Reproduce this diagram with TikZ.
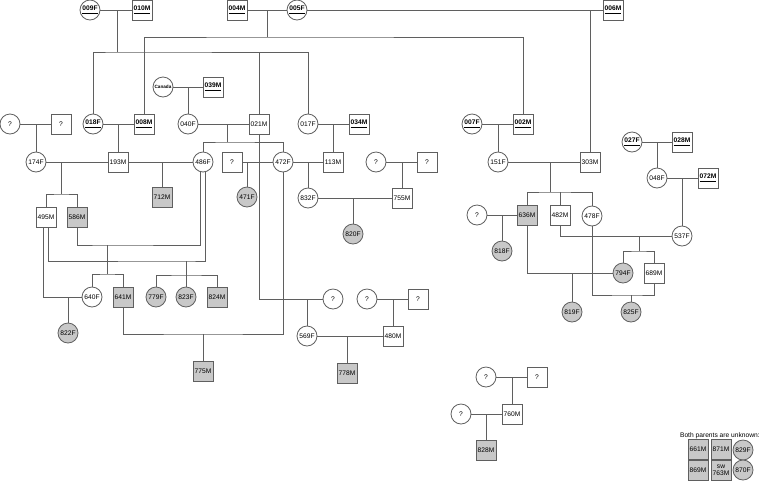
\documentclass[tikz,border=0pt]{standalone}
\usepackage{fontspec}
\setmainfont{Liberation Sans}
\definecolor{linegray}{RGB}{95,95,95}
\definecolor{affgray}{RGB}{200,200,200}
\newcommand{\founderid}[1]{\underline{\textbf{#1}}}
\usetikzlibrary{calc}

\begin{document}
\begin{tikzpicture}[x=0.75pt, y=-0.75pt,
    every node/.style={font=\fontsize{5}{5.5}\selectfont, inner sep=0pt},
    fem/.style={circle, draw=linegray, line width=0.6pt, fill=white, minimum size=15pt},
    mal/.style={rectangle, draw=linegray, line width=0.6pt, fill=white, minimum size=15pt},
    aff/.style={fill=affgray},
    link/.style={draw=linegray, line width=0.6pt}]
    \useasboundingbox (0,0) rectangle (760,483);

    % founders
    \node[fem] (n009F) at (90,10) {\founderid{009F}};
    \node[mal] (n010M) at (142,10) {\founderid{010M}};
    \node[mal] (n004M) at (237,10) {\founderid{004M}};
    \node[fem] (n005F) at (297,10) {\founderid{005F}};
    \node[mal] (n006M) at (613,10) {\founderid{006M}};
    \node[fem, font=\fontsize{3.5}{4}\selectfont\bfseries] (canada) at (163,87) {Canada};
    \node[mal] (n039M) at (213,87) {\founderid{039M}};

    \node[fem] (u1F) at (10,124) {?};
    \node[mal] (u1M) at (61,124) {?};
    \node[fem] (n018F) at (93,124) {\founderid{018F}};
    \node[mal] (n008M) at (144,124) {\founderid{008M}};
    \node[fem] (n040F) at (188,124) {040F};
    \node[mal] (n021M) at (259,124) {021M};
    \node[fem] (n017F) at (308,124) {017F};
    \node[mal] (n034M) at (359,124) {\founderid{034M}};
    \node[fem] (n007F) at (472,124) {\founderid{007F}};
    \node[mal] (n002M) at (523,124) {\founderid{002M}};
    \node[fem] (n027F) at (632,142) {\founderid{027F}};
    \node[mal] (n028M) at (682,142) {\founderid{028M}};

    \node[fem] (n174F) at (36,162) {174F};
    \node[mal] (n193M) at (118,162) {193M};
    \node[fem] (n486F) at (203,162) {486F};
    \node[mal] (u2M) at (232,162) {?};
    \node[fem] (n472F) at (283,162) {472F};
    \node[mal] (n113M) at (333,162) {113M};
    \node[fem] (u3F) at (376,162) {?};
    \node[mal] (u3M) at (427,162) {?};
    \node[fem] (n151F) at (498,162) {151F};
    \node[mal] (n303M) at (590,162) {303M};
    \node[fem] (n048F) at (657,178) {048F};
    \node[mal] (n072M) at (708,178) {\founderid{072M}};

    \node[mal, aff] (n712M) at (162,197) {712M};
    \node[fem, aff] (n471F) at (247,197) {471F};
    \node[fem] (n832F) at (308,198) {832F};
    \node[mal] (n755M) at (402,198) {755M};
    \node[fem, aff] (n820F) at (353,234) {820F};
    \node[mal] (n495M) at (46,217) {495M};
    \node[mal, aff] (n586M) at (77,217) {586M};
    \node[fem] (u4F) at (477,215) {?};
    \node[mal, aff] (n636M) at (527,215) {636M};
    \node[mal] (n482M) at (560,215) {482M};
    \node[fem] (n478F) at (592,216) {478F};
    \node[fem] (n537F) at (682,236) {537F};
    \node[fem, aff] (n818F) at (502,251) {818F};

    \node[fem] (n640F) at (92,297) {640F};
    \node[mal, aff] (n641M) at (123,297) {641M};
    \node[fem, aff] (n779F) at (156,297) {779F};
    \node[fem, aff] (n823F) at (186,297) {823F};
    \node[mal, aff] (n824M) at (217,297) {824M};
    \node[fem] (u5F) at (333,299) {?};
    \node[fem] (u6F) at (367,299) {?};
    \node[mal] (u6M) at (418,299) {?};
    \node[fem, aff] (n794F) at (623,273) {794F};
    \node[mal] (n689M) at (654,273) {689M};
    \node[fem, aff] (n819F) at (572,312) {819F};
    \node[fem, aff] (n825F) at (631,312) {825F};

    \node[fem, aff] (n822F) at (68,333) {822F};
    \node[fem] (n569F) at (307,336) {569F};
    \node[mal] (n480M) at (393,336) {480M};
    \node[mal, aff] (n775M) at (203,371) {775M};
    \node[mal, aff] (n778M) at (347,373) {778M};
    \node[fem] (u7F) at (486,377) {?};
    \node[mal] (u7M) at (537,377) {?};
    \node[fem] (u8F) at (461,414) {?};
    \node[mal] (n760M) at (512,414) {760M};
    \node[mal, aff] (n828M) at (486,450) {828M};

    % legend
    \node[anchor=east] (lgtitle) at (760,436) {Both parents are unknown:};
    \node[mal, aff] (lg661M) at (698,449) {661M};
    \node[mal, aff] (lg871M) at (721,449) {871M};
    \node[fem, aff] (lg829F) at (743,450) {829F};
    \node[mal, aff] (lg869M) at (698,470) {869M};
    \node[mal, aff, align=center, font=\fontsize{5}{5}\selectfont] (lg763M) at (721,470) {sw\\763M};
    \node[fem, aff] (lg870F) at (743,470) {870F};

    \coordinate (m1) at (117,10);
    \coordinate (b1) at (117,52);
    \coordinate (m2) at (267,10);
    \coordinate (b2) at (267,37);
    \coordinate (b7) at (227,142);
    \coordinate (b11) at (61,194);
    \coordinate (b16) at (550,192);
    \coordinate (b20) at (639,251);
    \coordinate (b21) at (631,295);
    \coordinate (b25) at (203,334);
    \coordinate (b26) at (107,245);
    \coordinate (b26c) at (107,274);
    \coordinate (b27) at (186,261);
    \coordinate (b27c) at (186,275);

    \draw[link] (n009F) -- (n010M);
    \draw[link] (m1) -- (b1);
    \draw[link] (n018F) |- (b1) -| (n017F);
    \draw[link] (n021M) -- (n021M |- b1);
    \draw[link] (n004M) -- (n005F) -- (n006M);
    \draw[link] (m2) -- (b2);
    \draw[link] (n008M) |- (b2) -| (n002M);
    \draw[link] (n303M) -- (n303M |- n006M);
    \draw[link] (canada) -- (n039M);
    \draw[link] (n040F) -- (n040F |- canada);

    \draw[link] (u1F) -- (u1M);
    \draw[link] (n174F) -- (n174F |- u1F);
    \draw[link] (n018F) -- (n008M);
    \draw[link] (n193M) -- (n193M |- n018F);
    \draw[link] (n040F) -- (n021M);
    \draw[link] (b7) -- (b7 |- n040F);
    \draw[link] (n486F) |- (b7) -| (n472F);
    \draw[link] (n017F) -- (n034M);
    \draw[link] (n113M) -- (n113M |- n017F);
    \draw[link] (n007F) -- (n002M);
    \draw[link] (n151F) -- (n151F |- n007F);
    \draw[link] (n027F) -- (n028M);
    \draw[link] (n048F) -- (n048F |- n027F);

    \draw[link] (n174F) -- (n193M) -- (n486F);
    \draw[link] (b11) -- (b11 |- n174F);
    \draw[link] (n495M) |- (b11) -| (n586M);
    \draw[link] (n712M) -- (n712M |- n193M);
    \draw[link] (u2M) -- (n472F) -- (n113M);
    \draw[link] (n471F) -- (n471F |- u2M);
    \draw[link] (n832F) -- (n832F |- n113M);
    \draw[link] (u3F) -- (u3M);
    \draw[link] (n755M) -- (n755M |- u3F);
    \draw[link] (n832F) -- (n755M);
    \draw[link] (n820F) -- (n820F |- n832F);

    \draw[link] (n151F) -- (n303M);
    \draw[link] (b16) -- (b16 |- n151F);
    \draw[link] (n636M) |- (b16) -| (n478F);
    \draw[link] (n482M) -- (n482M |- b16);
    \draw[link] (n048F) -- (n072M);
    \draw[link] (n537F) -- (n537F |- n048F);
    \draw[link] (u4F) -- (n636M);
    \draw[link] (n818F) -- (n818F |- u4F);
    \draw[link] (n636M) |- (n794F);
    \draw[link] (n819F) -- (n819F |- n794F);
    \draw[link] (n482M) |- (n537F);
    \draw[link] (b20) -- (b20 |- n537F);
    \draw[link] (n794F) |- (b20) -| (n689M);
    \draw[link] (n478F) |- (b21) -| (n689M);
    \draw[link] (n825F) -- (b21);

    \draw[link] (n586M) |- (b26) -| (n486F.-105);
    \draw[link] (b26) -- (b26c);
    \draw[link] (n640F) |- (b26c) -| (n641M);
    \draw[link] ([xshift=1.5pt]n495M.south) |- (b27) -| (n486F.-75);
    \draw[link] (n823F) -- (b27);
    \draw[link] (n779F) |- (b27c) -| (n824M);
    \draw[link] ([xshift=-2.25pt]n495M.south) |- (n640F);
    \draw[link] (n822F) -- (n822F |- n640F);
    \draw[link] (n641M) |- (b25) -| (n472F);
    \draw[link] (n775M) -- (b25);

    \draw[link] (n021M) |- (u5F);
    \draw[link] (n569F) -- (n569F |- u5F);
    \draw[link] (u6F) -- (u6M);
    \draw[link] (n480M) -- (n480M |- u6F);
    \draw[link] (n569F) -- (n480M);
    \draw[link] (n778M) -- (n778M |- n569F);
    \draw[link] (u7F) -- (u7M);
    \draw[link] (n760M) -- (n760M |- u7F);
    \draw[link] (u8F) -- (n760M);
    \draw[link] (n828M) -- (n828M |- u8F);
\end{tikzpicture}
\end{document}
